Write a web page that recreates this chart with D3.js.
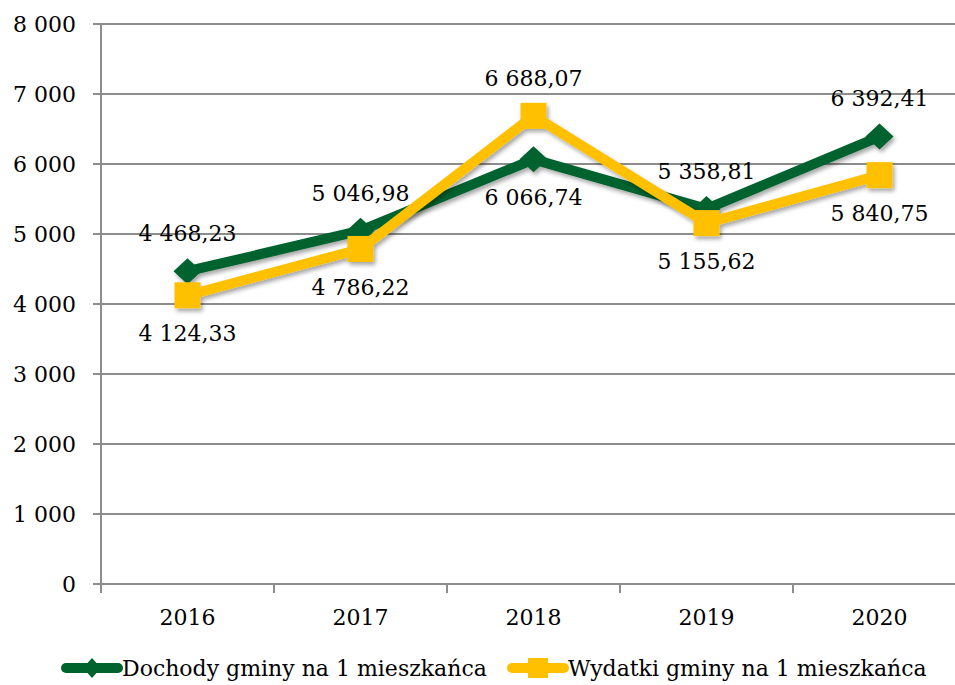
<!DOCTYPE html>
<html>
<head>
<meta charset="utf-8">
<script src="https://cdn.jsdelivr.net/npm/d3@7"></script>
<style>
body { margin: 0; background: #fff; }
svg { display: block; font-family: "DejaVu Serif", serif; }
</style>
</head>
<body>
<div class="chart"></div>
<script>
const years = ['2016', '2017', '2018', '2019', '2020'];
const dochody = [4468.23, 5046.98, 6066.74, 5358.81, 6392.41];
const wydatki = [4124.33, 4786.22, 6688.07, 5155.62, 5840.75];
const yTicks = [0, 1000, 2000, 3000, 4000, 5000, 6000, 7000, 8000];
// label placement: -1 above, 1 below
const dochodyPos = [-1, -1, 1, -1, -1];
const wydatkiPos = [1, 1, -1, 1, 1];

const w = 955, h = 685;
const green = '#00622D', yellow = '#FFC000';

const svg = d3.select('.chart').append('svg')
    .attr('width', w)
    .attr('height', h);

const defs = svg.append('defs');
const f = defs.append('filter').attr('id', 'shadow')
    .attr('x', '-30%').attr('y', '-30%').attr('width', '160%').attr('height', '160%');
f.append('feDropShadow').attr('dx', 2).attr('dy', 3).attr('stdDeviation', 2)
    .attr('flood-color', '#000').attr('flood-opacity', 0.35);

const x = d3.scaleBand().domain(years).range([101, 966]);
const y = d3.scaleLinear().domain([0, 8000]).range([584, 24]);

const fmt = v => d3.format(',.2f')(v).replace(/,/g, ' ').replace('.', ',');
const fmtTick = v => d3.format(',')(v).replace(/,/g, ' ');

// grid
svg.selectAll('line.grid')
    .data(yTicks)
    .enter()
    .append('line')
    .attr('class', 'grid')
    .attr('x1', 93).attr('x2', 966)
    .attr('y1', d => y(d)).attr('y2', d => y(d))
    .attr('stroke', '#8c8c8c').attr('stroke-width', 2);

svg.append('line')
    .attr('x1', 101).attr('x2', 101)
    .attr('y1', y(8000)).attr('y2', y(0) + 9)
    .attr('stroke', '#8c8c8c').attr('stroke-width', 2);

svg.selectAll('line.xtick')
    .data(years.slice(1))
    .enter()
    .append('line')
    .attr('class', 'xtick')
    .attr('x1', d => x(d)).attr('x2', d => x(d))
    .attr('y1', y(0)).attr('y2', y(0) + 9)
    .attr('stroke', '#8c8c8c').attr('stroke-width', 2);

svg.selectAll('text.ytick')
    .data(yTicks)
    .enter()
    .append('text')
    .attr('class', 'ytick')
    .attr('x', 76)
    .attr('y', d => y(d))
    .attr('dy', '0.36em')
    .attr('text-anchor', 'end')
    .attr('font-size', 22)
    .text(fmtTick);

svg.selectAll('text.xlab')
    .data(years)
    .enter()
    .append('text')
    .attr('class', 'xlab')
    .attr('x', d => x(d) + x.bandwidth() / 2)
    .attr('y', 625)
    .attr('text-anchor', 'middle')
    .attr('font-size', 22)
    .text(d => d);

const cx = d => x(d) + x.bandwidth() / 2;
const line = d3.line().x((d, i) => cx(years[i])).y(d => y(d));

function diamond(g, px, py) {
  g.append('path')
    .attr('d', `M${px},${py - 13}L${px + 14},${py}L${px},${py + 13}L${px - 14},${py}Z`)
    .attr('fill', green);
}
function square(g, px, py) {
  g.append('rect')
    .attr('x', px - 13).attr('y', py - 13)
    .attr('width', 26).attr('height', 26)
    .attr('fill', yellow);
}

const series = [
  {vals: dochody, color: green, marker: diamond, pos: dochodyPos},
  {vals: wydatki, color: yellow, marker: square, pos: wydatkiPos}
];

series.forEach(s => {
  const g = svg.append('g').attr('filter', 'url(#shadow)');
  g.append('path')
    .attr('d', line(s.vals))
    .attr('fill', 'none')
    .attr('stroke', s.color)
    .attr('stroke-width', 10)
    .attr('stroke-linejoin', 'round');
  s.vals.forEach((v, i) => s.marker(g, cx(years[i]), y(v)));
});

series.forEach(s => {
  svg.selectAll(null)
    .data(s.vals)
    .enter()
    .append('text')
    .attr('x', (d, i) => cx(years[i]))
    .attr('y', (d, i) => y(d) + s.pos[i] * 38)
    .attr('dy', '0.36em')
    .attr('text-anchor', 'middle')
    .attr('font-size', 22)
    .text(fmt);
});

// legend
const leg = [
  {label: 'Dochody gminy na 1 mieszkańca', x: 62, color: green, marker: diamond},
  {label: 'Wydatki gminy na 1 mieszkańca', x: 508, color: yellow, marker: square}
];
leg.forEach(l => {
  const g = svg.append('g');
  g.append('line')
    .attr('x1', l.x + 4).attr('x2', l.x + 56)
    .attr('y1', 668).attr('y2', 668)
    .attr('stroke', l.color).attr('stroke-width', 10)
    .attr('stroke-linecap', 'round');
  if (l.marker === diamond) {
    g.append('path')
      .attr('d', `M${l.x + 30},658L${l.x + 39},668L${l.x + 30},678L${l.x + 21},668Z`)
      .attr('fill', l.color);
  } else {
    g.append('rect')
      .attr('x', l.x + 20).attr('y', 658).attr('width', 20).attr('height', 20)
      .attr('fill', l.color);
  }
  g.append('text')
    .attr('x', l.x + 60)
    .attr('y', 668)
    .attr('dy', '0.36em')
    .attr('font-size', 22)
    .text(l.label);
});
</script>
</body>
</html>
